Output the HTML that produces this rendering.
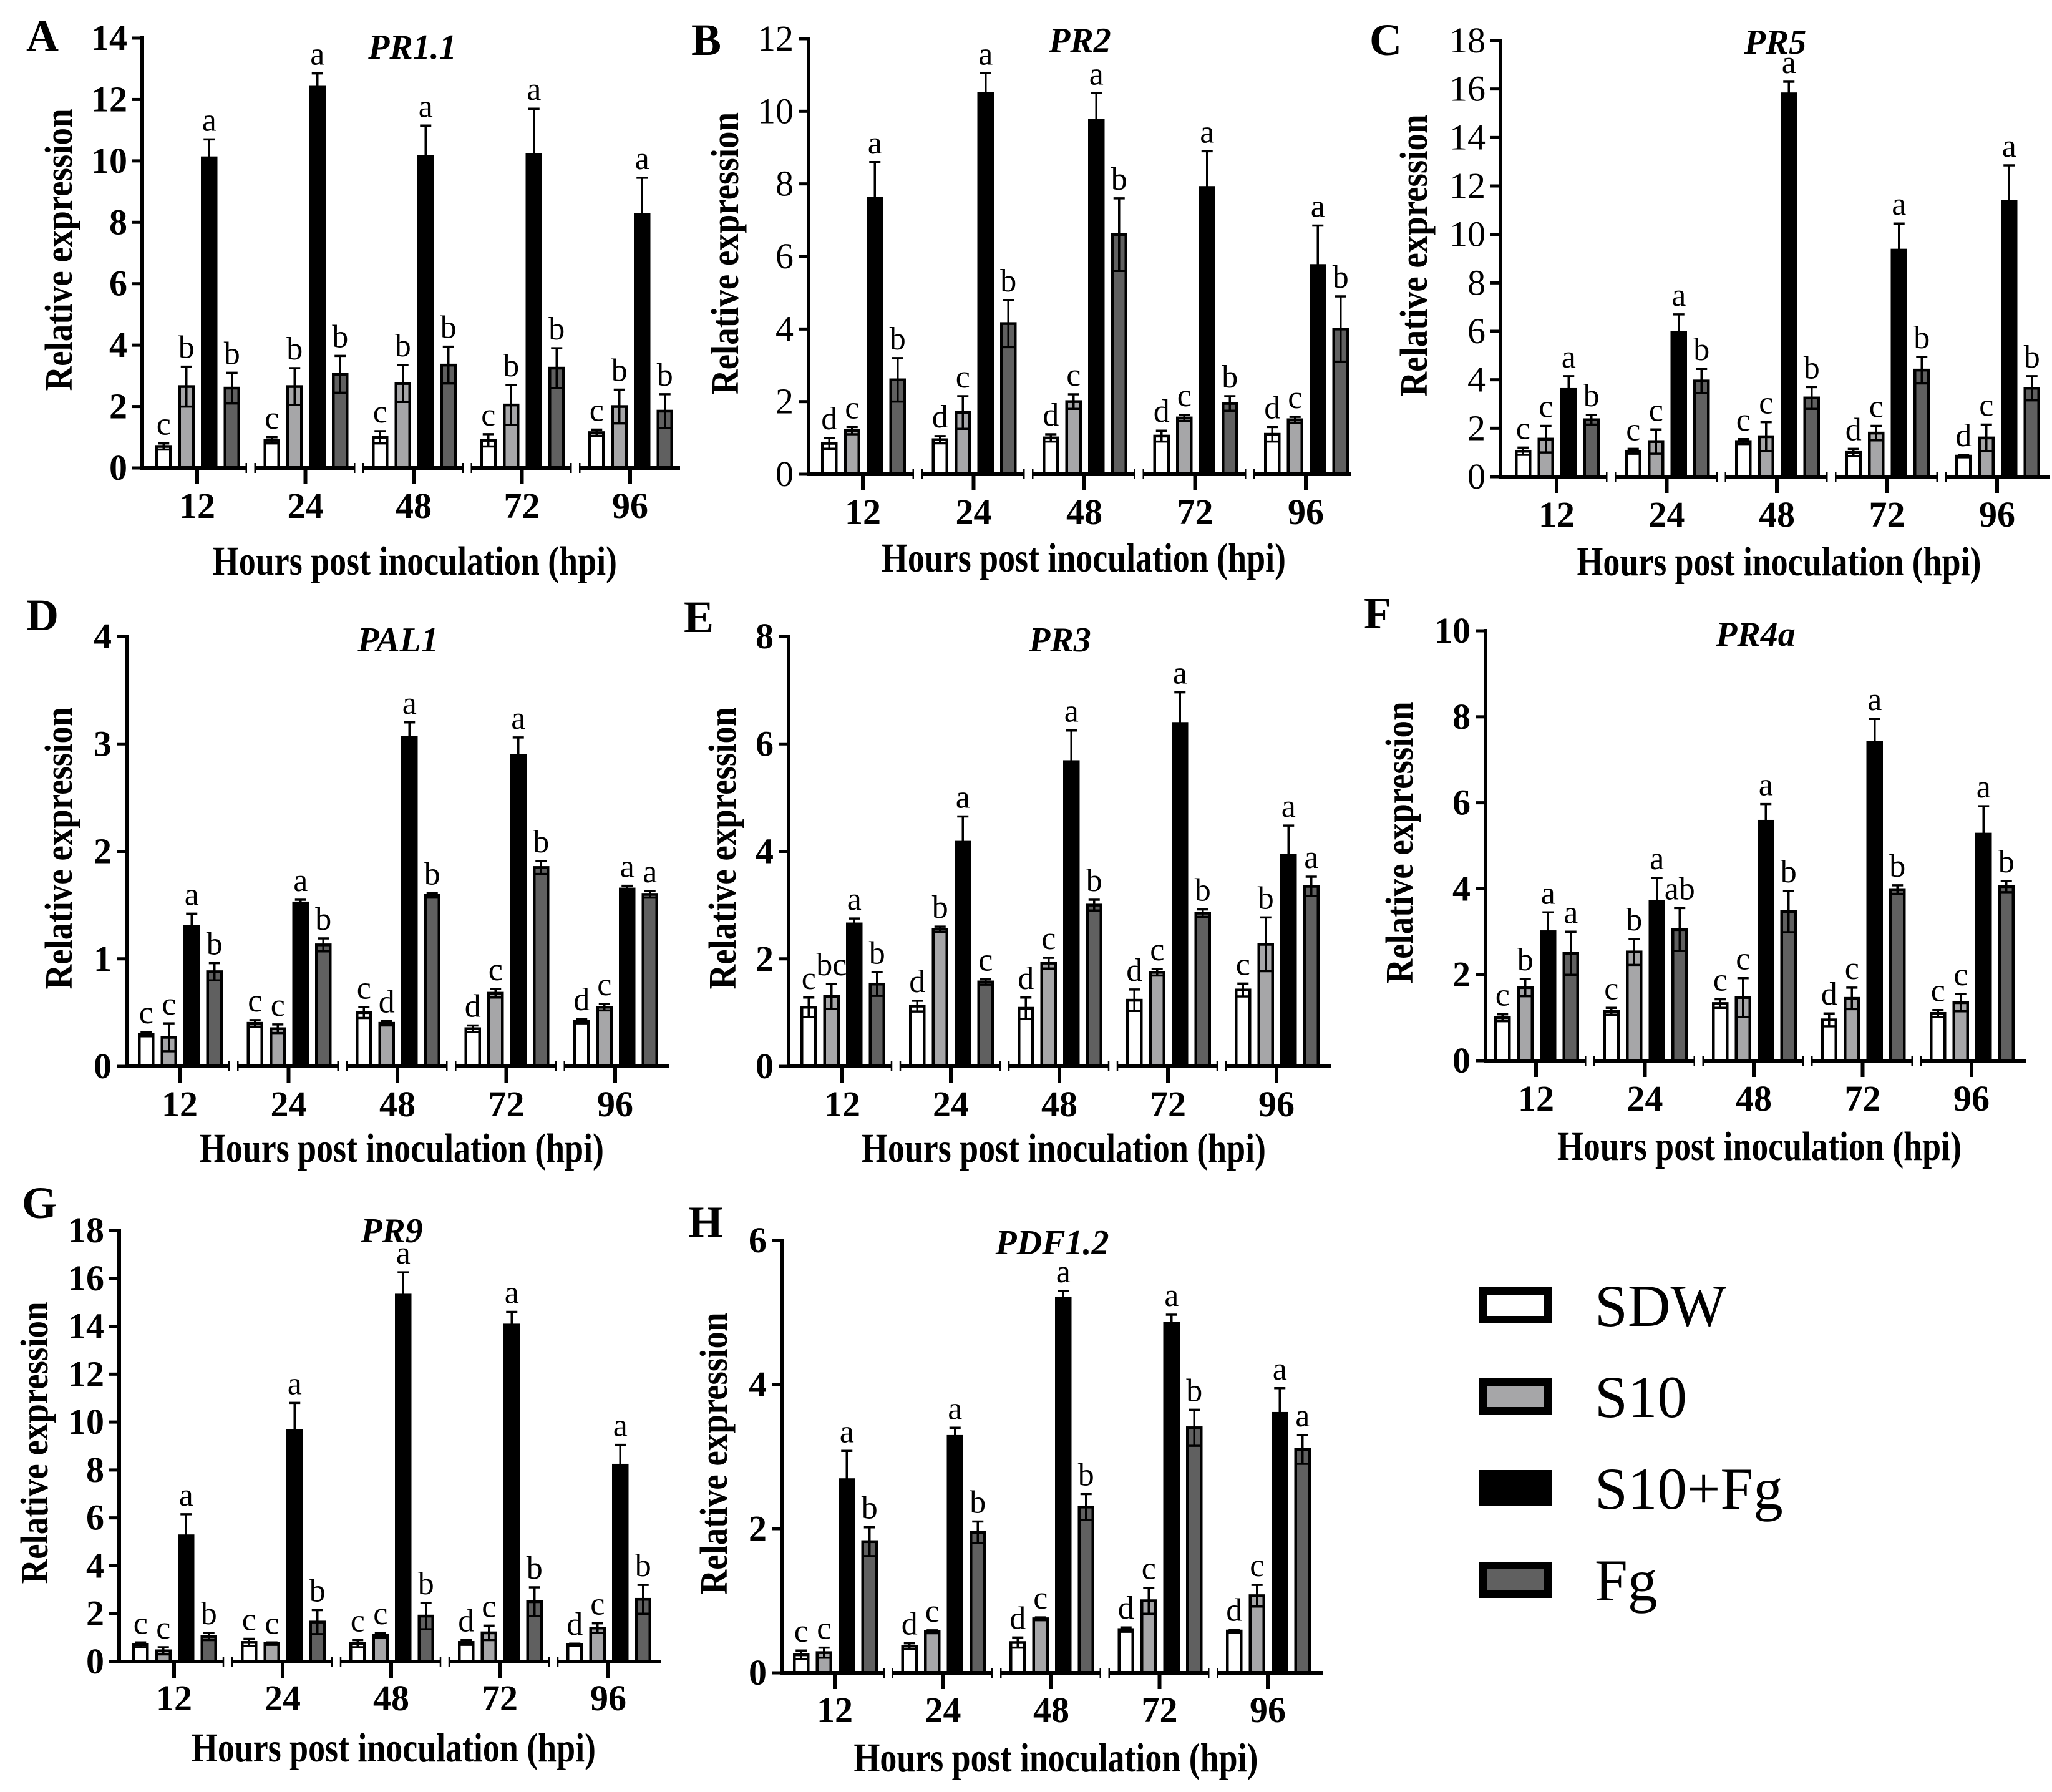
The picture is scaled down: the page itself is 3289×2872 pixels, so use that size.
<!DOCTYPE html>
<html><head><meta charset="utf-8"><style>
html,body{margin:0;padding:0;background:#fff}
svg{display:block}
text{font-family:"Liberation Serif","Times New Roman",serif}
</style></head><body>
<svg id="fig" width="3289" height="2872" viewBox="0 0 3289 2872" xmlns="http://www.w3.org/2000/svg">
<rect x="0" y="0" width="3289" height="2872" fill="#fff"/>
<g id="legend">
 <g><rect x="2377" y="2069" width="104" height="46" fill="#fff" stroke="#000" stroke-width="12"/><text x="2556" y="2125" font-size="95">SDW</text></g>
 <g><rect x="2377" y="2215" width="104" height="46" fill="#a6a6a8" stroke="#000" stroke-width="12"/><text x="2556" y="2271" font-size="95">S10</text></g>
 <g><rect x="2377" y="2362" width="104" height="46" fill="#000" stroke="#000" stroke-width="12"/><text x="2556" y="2418" font-size="95">S10+Fg</text></g>
 <g><rect x="2377" y="2509" width="104" height="46" fill="#606060" stroke="#000" stroke-width="12"/><text x="2556" y="2565" font-size="95">Fg</text></g>
</g>
</svg>
<script>
const categories = ['12','24','48','72','96'];
const seriesNames = ['SDW','S10','S10+Fg','Fg'];
const seriesFill = ['#ffffff','#a6a6a8','#000000','#606060'];

// Panel A PR1.1
const A_means = [[0.7,0.9,1.0,0.9,1.15],[2.65,2.65,2.75,2.05,2.0],[10.1,12.4,10.15,10.2,8.25],[2.6,3.05,3.35,3.25,1.85]];
const A_errs  = [[0.1,0.1,0.2,0.2,0.1],[0.65,0.6,0.6,0.65,0.55],[0.6,0.45,1.0,1.5,1.2],[0.5,0.6,0.6,0.65,0.55]];
const A_sig   = [['c','c','c','c','c'],['b','b','b','b','b'],['a','a','a','a','a'],['b','b','b','b','b']];
// Panel B PR2
const B_means = [[0.85,0.95,1.0,1.05,1.1],[1.2,1.7,2.0,1.55,1.5],[7.6,10.5,9.75,7.9,5.75],[2.6,4.15,6.6,1.95,4.0]];
const B_errs  = [[0.15,0.1,0.1,0.15,0.2],[0.1,0.45,0.2,0.08,0.08],[1.0,0.55,0.75,1.0,1.1],[0.6,0.65,1.0,0.2,0.9]];
const B_sig   = [['d','d','d','d','d'],['c','c','c','c','c'],['a','a','a','a','a'],['b','b','b','b','b']];
// Panel C PR5
const C_means = [[1.05,1.05,1.45,1.0,0.85],[1.55,1.45,1.65,1.8,1.6],[3.6,5.95,15.8,9.35,11.35],[2.35,3.95,3.25,4.4,3.65]];
const C_errs  = [[0.15,0.1,0.1,0.15,0.05],[0.55,0.5,0.6,0.3,0.55],[0.55,0.75,0.5,1.1,1.5],[0.2,0.5,0.45,0.55,0.5]];
const C_sig   = [['c','c','c','d','d'],['c','c','c','c','c'],['a','a','a','a','a'],['b','b','b','b','b']];
// Panel D PAL1
const D_means = [[0.3,0.4,0.5,0.35,0.42],[0.27,0.35,0.4,0.68,0.55],[1.3,1.52,3.06,2.89,1.65],[0.88,1.13,1.59,1.85,1.6]];
const D_errs  = [[0.02,0.03,0.05,0.03,0.02],[0.13,0.04,0.02,0.04,0.03],[0.12,0.03,0.14,0.17,0.03],[0.08,0.06,0.02,0.06,0.03]];
const D_sig   = [['c','c','c','d','d'],['c','c','d','c','c'],['a','a','a','a','a'],['b','b','b','b','a']];
// Panel E PR3
const E_means = [[1.1,1.12,1.08,1.23,1.42],[1.3,2.55,1.92,1.75,2.27],[2.65,4.17,5.67,6.38,3.93],[1.53,1.57,3.0,2.85,3.35]];
const E_errs  = [[0.18,0.1,0.2,0.2,0.12],[0.23,0.05,0.1,0.06,0.5],[0.1,0.48,0.58,0.58,0.55],[0.22,0.05,0.1,0.07,0.18]];
const E_sig   = [['c','d','d','d','c'],['bc','b','c','c','b'],['a','a','a','a','a'],['b','c','b','b','a']];
// Panel F PR4a
const F_means = [[1.0,1.15,1.33,0.95,1.1],[1.7,2.53,1.47,1.45,1.35],[3.0,3.7,5.57,7.4,5.27],[2.5,3.05,3.47,3.98,4.05]];
const F_errs  = [[0.08,0.08,0.1,0.15,0.08],[0.2,0.3,0.45,0.25,0.2],[0.45,0.55,0.4,0.55,0.65],[0.5,0.5,0.48,0.1,0.13]];
const F_sig   = [['c','c','c','d','c'],['b','b','c','c','c'],['a','a','a','a','a'],['a','ab','b','b','b']];
// Panel G PR9
const G_means = [[0.7,0.8,0.75,0.8,0.7],[0.45,0.75,1.1,1.2,1.4],[5.25,9.65,15.3,14.05,8.2],[1.05,1.65,1.9,2.5,2.6]];
const G_errs  = [[0.1,0.15,0.15,0.1,0.05],[0.15,0.05,0.1,0.3,0.2],[0.9,1.15,0.95,0.55,0.85],[0.15,0.5,0.55,0.6,0.6]];
const G_sig   = [['c','c','c','d','d'],['c','c','c','c','c'],['a','a','a','a','a'],['b','b','b','b','b']];
// Panel H PDF1.2
const H_means = [[0.25,0.37,0.42,0.6,0.58],[0.28,0.57,0.75,1.0,1.07],[2.68,3.28,5.2,4.85,3.6],[1.82,1.95,2.3,3.4,3.1]];
const H_errs  = [[0.06,0.04,0.07,0.03,0.02],[0.07,0.02,0.02,0.18,0.15],[0.4,0.12,0.1,0.12,0.35],[0.2,0.15,0.18,0.25,0.2]];
const H_sig   = [['c','d','d','d','d'],['c','c','c','c','c'],['a','a','a','a','a'],['b','b','b','b','a']];

const panels = [
 {id:'A',gene:'PR1.1',means:A_means,errs:A_errs,sig:A_sig,max:14,step:2,ax:228,y0:750,yt:61,x1:316,sp:173.5,end:1090,lx:42,ly:82,gy:94,xl:830,xt:921,ytx:95,bold:true},
 {id:'B',gene:'PR2',means:B_means,errs:B_errs,sig:B_sig,max:12,step:2,ax:1296,y0:760,yt:62,x1:1383,sp:177.5,end:2166,lx:1108,ly:88,gy:83,xl:840,xt:916,ytx:1163,bold:false},
 {id:'C',gene:'PR5',means:C_means,errs:C_errs,sig:C_sig,max:18,step:2,ax:2405,y0:764,yt:65,x1:2495,sp:176.5,end:3286,lx:2195,ly:88,gy:86,xl:844,xt:922,ytx:2267,bold:false},
 {id:'D',gene:'PAL1',means:D_means,errs:D_errs,sig:D_sig,max:4,step:1,ax:203,y0:1709,yt:1020,x1:288,sp:174.5,end:1073,lx:42,ly:1010,gy:1044,xl:1789,xt:1862,ytx:95,bold:true},
 {id:'E',gene:'PR3',means:E_means,errs:E_errs,sig:E_sig,max:8,step:2,ax:1264,y0:1709,yt:1020,x1:1350,sp:174,end:2134,lx:1096,ly:1013,gy:1044,xl:1789,xt:1862,ytx:1159,bold:true},
 {id:'F',gene:'PR4a',means:F_means,errs:F_errs,sig:F_sig,max:10,step:2,ax:2381,y0:1700,yt:1011,x1:2462,sp:174.5,end:3247,lx:2186,ly:1007,gy:1035,xl:1780,xt:1859,ytx:2244,bold:true},
 {id:'G',gene:'PR9',means:G_means,errs:G_errs,sig:G_sig,max:18,step:2,ax:191,y0:2663,yt:1972,x1:279,sp:174,end:1059,lx:35,ly:1952,gy:1991,xl:2741,xt:2823,ytx:56,bold:true},
 {id:'H',gene:'PDF1.2',means:H_means,errs:H_errs,sig:H_sig,max:6,step:2,ax:1253,y0:2681,yt:1988,x1:1338,sp:173.5,end:2120,lx:1103,ly:1983,gy:2010,xl:2760,xt:2839,ytx:1145,bold:true}
];

const NS='http://www.w3.org/2000/svg';
const svg=document.getElementById('fig');
function mk(tag,attrs,parent){const e=document.createElementNS(NS,tag);for(const k in attrs)e.setAttribute(k,attrs[k]);parent.appendChild(e);return e;}

panels.forEach(p=>{
 const g=mk('g',{},svg);
 
 
 const yScale=v=>p.y0-(v/p.max)*(p.y0-p.yt);
 const xScale=i=>p.x1+i*p.sp;
 const barX=(i,s)=>xScale(i)+1+(s-1.5)*36.5;
 const L=mk('text',{x:p.lx,y:p.ly,'font-size':72,'font-weight':'bold'},g);L.textContent=p.id;
 
 
 const gt=mk('text',{x:(p.id==='G'?628:(p.ax+p.end)/2+ (p.id==='A'?2:0)),y:p.gy,'font-size':56,'font-weight':'bold','font-style':'italic','text-anchor':'middle'},g);gt.textContent=p.gene;
 
 
 for(let s=0;s<4;s++){
  for(let i=0;i<5;i++){
   const v=p.means[s][i],e=p.errs[s][i];
   const cx=barX(i,s),w=22;
   const yt=yScale(v);
   const r=mk('rect',{x:cx-w/2,y:yt,width:w,height:p.y0-yt,fill:seriesFill[s],stroke:'#000','stroke-width':4.5},g);
   
   
   const ye1=yScale(v+e),ye0=yScale(Math.max(0,v-e));
   const eb=mk('path',{d:`M${cx},${ye0}V${ye1}M${cx-9},${ye1}H${cx+9}M${cx-9},${ye0}H${cx+9}`,stroke:'#000','stroke-width':3.5,fill:'none'},g);
   
   
   const t=mk('text',{x:cx,y:ye1-14,'font-size':52,'text-anchor':'middle'},g);t.textContent=p.sig[s][i];
   
   
  }
 }
 const ya=mk('g',{},g);
 
 
 mk('line',{x1:p.ax,y1:p.y0+3,x2:p.ax,y2:p.yt-3,stroke:'#000','stroke-width':6},ya);
 for(let v=0;v<=p.max+1e-9;v+=p.step){
  const y=yScale(v);
  mk('line',{x1:p.ax-16,y1:y,x2:p.ax,y2:y,stroke:'#000','stroke-width':5},ya);
  const t=mk('text',{x:p.ax-24,y:y+19,'font-size':58,'font-weight':p.bold?'bold':'normal','text-anchor':'end'},ya);t.textContent=String(v);
  
  
 }
 const cy=(p.y0+p.yt)/2-5;
 const yt=mk('text',{x:p.ytx+20,y:cy,'font-size':62,'font-weight':'bold','text-anchor':'middle',transform:`rotate(-90 ${p.ytx+20} ${cy})`,textLength:452,lengthAdjust:'spacingAndGlyphs'},ya);yt.textContent='Relative expression';
 
 
 const xa=mk('g',{},g);
 
 
 let start=p.ax;
 for(let i=0;i<5;i++){
  const stop=i<4?(xScale(i)+xScale(i+1))/2-7:p.end;
  mk('line',{x1:start,y1:p.y0,x2:stop,y2:p.y0,stroke:'#000','stroke-width':6},xa);
  if(i<4){
   mk('line',{x1:stop-1,y1:p.y0-8,x2:stop-1,y2:p.y0+8,stroke:'#000','stroke-width':2.5},xa);
   mk('line',{x1:stop+13,y1:p.y0-8,x2:stop+13,y2:p.y0+8,stroke:'#000','stroke-width':2.5},xa);
  }
  start=stop+14;
  const x=xScale(i);
  mk('line',{x1:x,y1:p.y0,x2:x,y2:p.y0+26,stroke:'#000','stroke-width':6},xa);
  const t=mk('text',{x:x,y:p.xl,'font-size':58,'font-weight':'bold','text-anchor':'middle'},xa);t.textContent=categories[i];
  
  
 }
 const xt=mk('text',{x:(p.ax+p.end)/2+6,y:p.xt,'font-size':66,'font-weight':'bold','text-anchor':'middle',textLength:648,lengthAdjust:'spacingAndGlyphs'},xa);xt.textContent='Hours post inoculation (hpi)';
 
 
});
</script>
</body></html>
